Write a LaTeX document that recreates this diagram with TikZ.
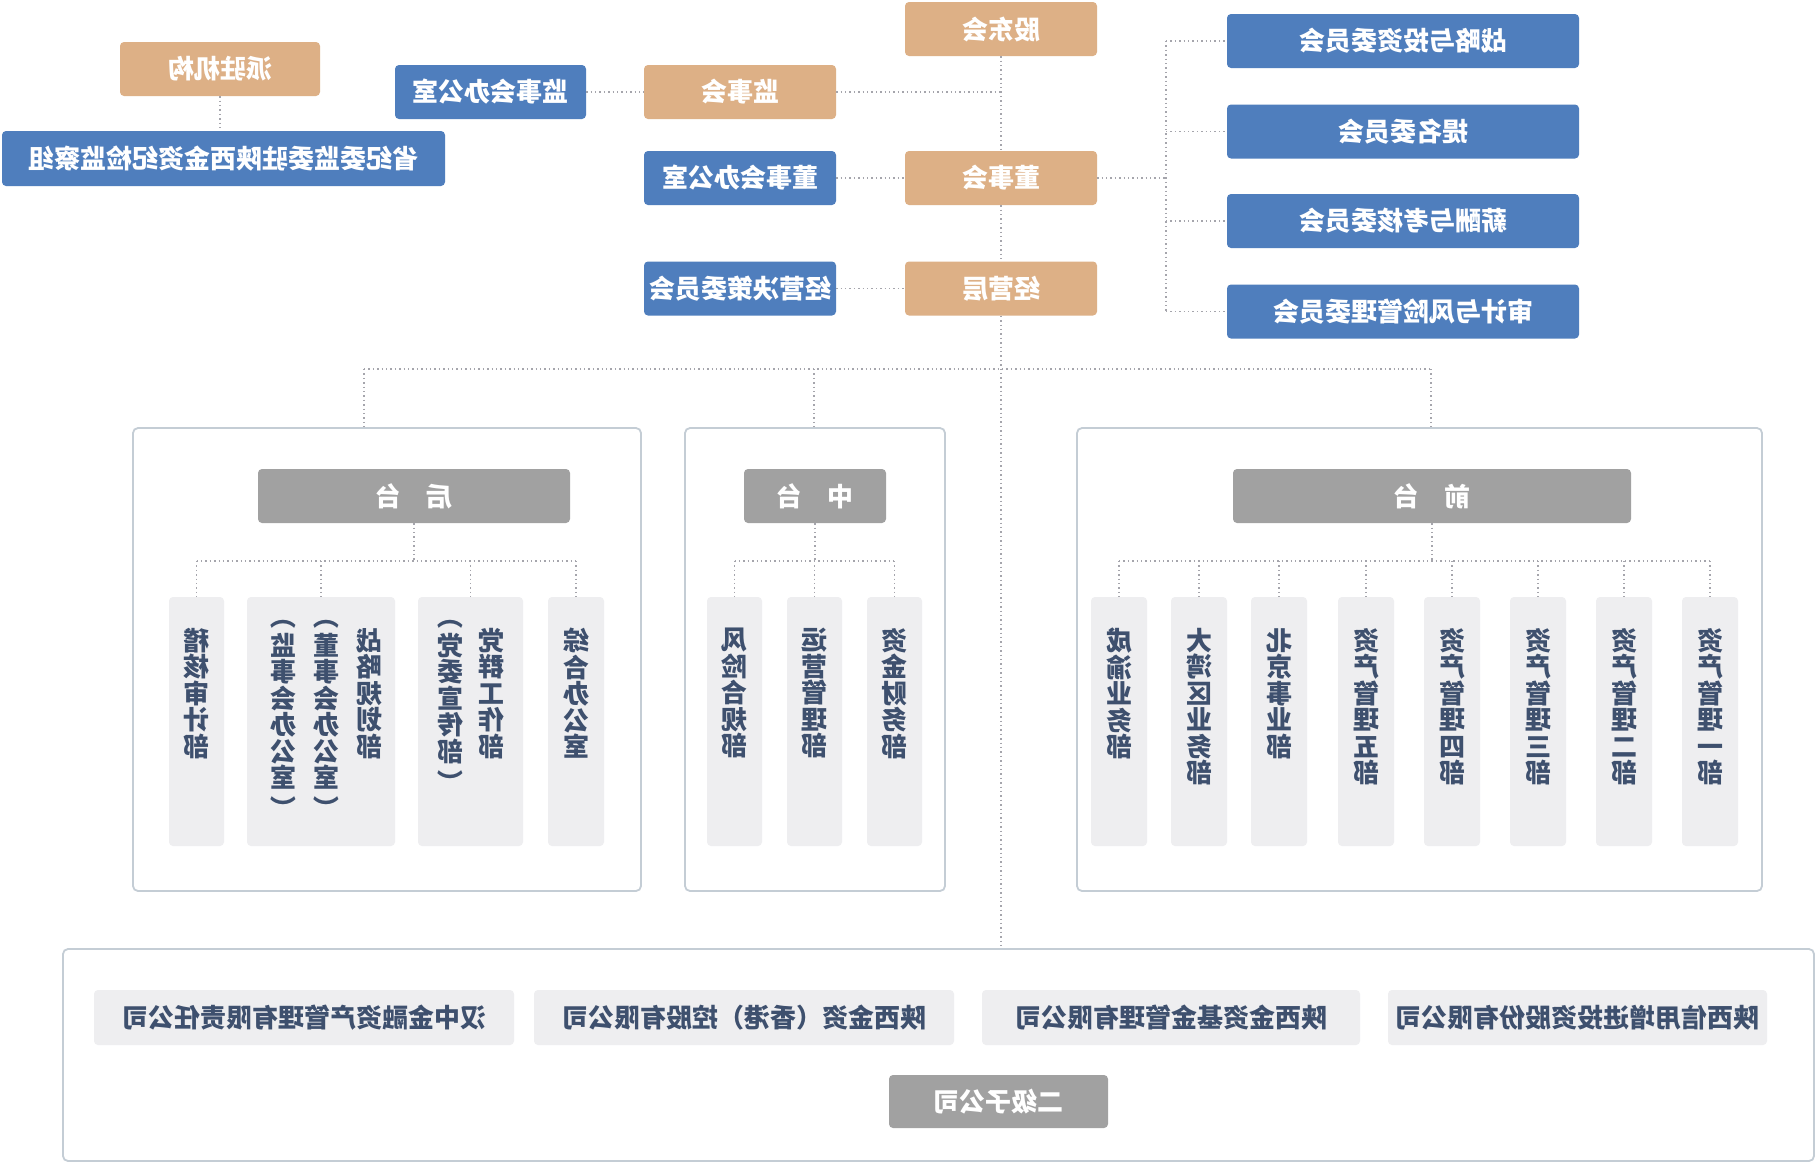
\documentclass[tikz,border=0pt]{standalone}
\usepackage{fontspec}
\usepackage{graphicx}
\newfontfamily\cjk{Noto Sans CJK SC}
\definecolor{tanc}{RGB}{221,176,134}
\definecolor{bluec}{RGB}{79,126,189}
\definecolor{hdrc}{RGB}{161,161,161}
\definecolor{colc}{RGB}{238,238,240}
\definecolor{txtc}{RGB}{62,80,110}
\definecolor{grpc}{RGB}{196,205,213}
\definecolor{linec}{RGB}{165,165,172}
\newcommand\vtxt[1]{\reflectbox{\vbox{\baselineskip=26.5pt\lineskiplimit=-100pt\lineskip=0pt\halign{\hfil##\hfil\cr#1\crcr}}}}
\newcommand\vlp{\rotatebox[origin=c]{-90}{（}}
\newcommand\vrp{\rotatebox[origin=c]{-90}{）}}
\tikzset{
  base/.style={rounded corners=4pt, inner sep=0pt, font=\cjk\bfseries\fontsize{26}{29}\selectfont},
  tanbox/.style={base, fill=tanc, text=white, minimum width=192pt, minimum height=54pt},
  blubox/.style={base, fill=bluec, text=white, minimum height=54pt},
  hdrbox/.style={base, fill=hdrc, text=white, minimum height=54pt},
  colbox/.style={rounded corners=4pt, fill=colc, minimum height=249pt, inner sep=0pt},
  vtnode/.style={anchor=north, inner sep=0pt, text=txtc, font=\cjk\bfseries\fontsize{26}{26.5}\selectfont},
  compbox/.style={base, fill=colc, text=txtc, minimum height=55pt},
  grpbox/.style={draw=grpc, line width=1.8pt, rounded corners=5pt, inner sep=0pt},
  dl/.style={draw=linec, line width=1.4pt, dash pattern=on 1.4pt off 3pt},
}
\begin{document}
\begin{tikzpicture}[x=1pt,y=-1pt]
\useasboundingbox (0,0) rectangle (1820,1168);
\fill[white] (0,0) rectangle (1820,1168);

% ---------- top level ----------
\node[tanbox] (gdh) at (1001,29) {\reflectbox{股东会}};
\node[tanbox] (jsh) at (740,92) {\reflectbox{监事会}};
\node[blubox, minimum width=191pt] (jshb) at (490.5,92) {\reflectbox{监事会办公室}};
\node[tanbox, minimum width=200pt] (pzjg) at (220,69) {\reflectbox{派驻机构}};
\node[blubox, minimum width=443pt, minimum height=55pt] (sjw) at (223.5,158.5) {\reflectbox{省纪委监委驻陕西金资纪检监察组}};
\node[tanbox] (dsh) at (1001,178) {\reflectbox{董事会}};
\node[blubox, minimum width=192pt] (dshb) at (740,178) {\reflectbox{董事会办公室}};
\node[tanbox] (jyc) at (1001,288.5) {\reflectbox{经营层}};
\node[blubox, minimum width=192pt] (jyjc) at (740,288.5) {\reflectbox{经营决策委员会}};

\node[blubox, minimum width=352pt] (wy1) at (1403,41) {\reflectbox{战略与投资委员会}};
\node[blubox, minimum width=352pt] (wy2) at (1403,131.5) {\reflectbox{提名委员会}};
\node[blubox, minimum width=352pt] (wy3) at (1403,221) {\reflectbox{薪酬与考核委员会}};
\node[blubox, minimum width=352pt] (wy4) at (1403,311.5) {\reflectbox{审计与风险管理委员会}};

% ---------- groups ----------
\node[grpbox, minimum width=508pt, minimum height=463pt] (g1) at (387,659.5) {};
\node[grpbox, minimum width=260pt, minimum height=463pt] (g2) at (815,659.5) {};
\node[grpbox, minimum width=685pt, minimum height=463pt] (g3) at (1419.5,659.5) {};

\node[hdrbox, minimum width=312pt] (hd1) at (414,496) {\reflectbox{后\hspace{25pt}台}};
\node[hdrbox, minimum width=142pt] (hd2) at (815,496) {\reflectbox{中\hspace{25pt}台}};
\node[hdrbox, minimum width=398pt] (hd3) at (1432,496) {\reflectbox{前\hspace{25pt}台}};

% back office columns
\node[colbox, minimum width=55pt] (k1) at (196.5,721.5) {};
\node[colbox, minimum width=148pt] (k2) at (321,721.5) {};
\node[colbox, minimum width=105pt] (k3) at (470.5,721.5) {};
\node[colbox, minimum width=56pt] (k4) at (576,721.5) {};
\node[vtnode] (tk1) at (196.5,628) {\vtxt{稽\cr 核\cr 审\cr 计\cr 部}};
\node[vtnode] (tk2a) at (369,628) {\vtxt{战\cr 略\cr 规\cr 划\cr 部}};
\node[vtnode] (tk2b) at (326,633) {\vtxt{董\cr 事\cr 会\cr 办\cr 公\cr 室}};
\node[vtnode, anchor=south, yshift=3pt] (pk2b1) at (tk2b.north) {\vlp};
\node[vtnode, anchor=north, yshift=-5pt] (pk2b2) at (tk2b.south) {\vrp};
\node[vtnode] (tk2c) at (283,633) {\vtxt{监\cr 事\cr 会\cr 办\cr 公\cr 室}};
\node[vtnode, anchor=south, yshift=3pt] (pk2c1) at (tk2c.north) {\vlp};
\node[vtnode, anchor=north, yshift=-5pt] (pk2c2) at (tk2c.south) {\vrp};
\node[vtnode] (tk3a) at (491,628) {\vtxt{党\cr 群\cr 工\cr 作\cr 部}};
\node[vtnode] (tk3b) at (450,633) {\vtxt{党\cr 委\cr 宣\cr 传\cr 部}};
\node[vtnode, anchor=south, yshift=3pt] (pk3b1) at (tk3b.north) {\vlp};
\node[vtnode, anchor=north, yshift=-5pt] (pk3b2) at (tk3b.south) {\vrp};
\node[vtnode] (tk4) at (576,628) {\vtxt{综\cr 合\cr 办\cr 公\cr 室}};

% middle office columns
\node[colbox, minimum width=55pt] (m1) at (734.5,721.5) {};
\node[colbox, minimum width=55pt] (m2) at (814.5,721.5) {};
\node[colbox, minimum width=55pt] (m3) at (894.5,721.5) {};
\node[vtnode] (tm1) at (734.5,628) {\vtxt{风\cr 险\cr 合\cr 规\cr 部}};
\node[vtnode] (tm2) at (814.5,628) {\vtxt{运\cr 营\cr 管\cr 理\cr 部}};
\node[vtnode] (tm3) at (894.5,628) {\vtxt{资\cr 金\cr 财\cr 务\cr 部}};

% front office columns
\node[colbox, minimum width=56pt] (f1) at (1119,721.5) {};
\node[colbox, minimum width=56pt] (f2) at (1199,721.5) {};
\node[colbox, minimum width=56pt] (f3) at (1279,721.5) {};
\node[colbox, minimum width=56pt] (f4) at (1366,721.5) {};
\node[colbox, minimum width=56pt] (f5) at (1452,721.5) {};
\node[colbox, minimum width=56pt] (f6) at (1538,721.5) {};
\node[colbox, minimum width=56pt] (f7) at (1624,721.5) {};
\node[colbox, minimum width=56pt] (f8) at (1710,721.5) {};
\node[vtnode] (tf1) at (1119,628) {\vtxt{成\cr 渝\cr 业\cr 务\cr 部}};
\node[vtnode] (tf2) at (1199,628) {\vtxt{大\cr 湾\cr 区\cr 业\cr 务\cr 部}};
\node[vtnode] (tf3) at (1279,628) {\vtxt{北\cr 京\cr 事\cr 业\cr 部}};
\node[vtnode] (tf4) at (1366,628) {\vtxt{资\cr 产\cr 管\cr 理\cr 五\cr 部}};
\node[vtnode] (tf5) at (1452,628) {\vtxt{资\cr 产\cr 管\cr 理\cr 四\cr 部}};
\node[vtnode] (tf6) at (1538,628) {\vtxt{资\cr 产\cr 管\cr 理\cr 三\cr 部}};
\node[vtnode] (tf7) at (1624,628) {\vtxt{资\cr 产\cr 管\cr 理\cr 二\cr 部}};
\node[vtnode] (tf8) at (1710,628) {\vtxt{资\cr 产\cr 管\cr 理\cr 一\cr 部}};

% ---------- subsidiaries ----------
\node[grpbox, minimum width=1751pt, minimum height=212pt] (sub) at (938.5,1055) {};
\node[compbox, minimum width=420pt] (c1) at (304,1017.5) {\reflectbox{汉中金融资产管理有限责任公司}};
\node[compbox, minimum width=420pt] (c2) at (744,1017.5) {\reflectbox{陕西金资（香港）控股有限公司}};
\node[compbox, minimum width=378pt] (c3) at (1171,1017.5) {\reflectbox{陕西金资基金管理有限公司}};
\node[compbox, minimum width=379pt] (c4) at (1577.5,1017.5) {\reflectbox{陕西信用增进投资股份有限公司}};
\node[hdrbox, minimum width=219pt, minimum height=53pt] (ej) at (998.5,1101.5) {\reflectbox{二级子公司}};

% ---------- connectors ----------
\draw[dl] (gdh.south) -- (dsh.north);
\draw[dl] (dsh.south) -- (jyc.north);
\draw[dl] (jyc.south) -- (jyc.south |- sub.north);
\draw[dl] (jsh.east) -- (jsh.east -| gdh.south);
\draw[dl] (jshb.east) -- (jsh.west);
\draw[dl] (pzjg.south) -- (pzjg.south |- sjw.north);
\draw[dl] (dshb.east) -- (dsh.west);
\draw[dl] (jyjc.east) -- (jyc.west);

\coordinate (bus) at (1166,178);
\draw[dl] (dsh.east) -- (bus);
\draw[dl] (bus |- wy1.west) -- (bus |- wy4.west);
\foreach \w in {wy1,wy2,wy3,wy4} \draw[dl] (bus |- \w.west) -- (\w.west);

\coordinate (dL) at (364,369);
\coordinate (dM) at (814,369);
\coordinate (dR) at (1431,369);
\draw[dl] (dL) -- (dR);
\draw[dl] (dL) -- (dL |- g1.north);
\draw[dl] (dM) -- (dM |- g2.north);
\draw[dl] (dR) -- (dR |- g3.north);

\coordinate (br) at (0,561);
\draw[dl] (hd1.south) -- (hd1.south |- br);
\draw[dl] (k1.north |- br) -- (k4.north |- br);
\foreach \k in {k1,k2,k3,k4} \draw[dl] (\k.north |- br) -- (\k.north);
\draw[dl] (hd2.south) -- (hd2.south |- br);
\draw[dl] (m1.north |- br) -- (m3.north |- br);
\foreach \k in {m1,m2,m3} \draw[dl] (\k.north |- br) -- (\k.north);
\draw[dl] (hd3.south) -- (hd3.south |- br);
\draw[dl] (f1.north |- br) -- (f8.north |- br);
\foreach \k in {f1,f2,f3,f4,f5,f6,f7,f8} \draw[dl] (\k.north |- br) -- (\k.north);
\end{tikzpicture}
\end{document}
